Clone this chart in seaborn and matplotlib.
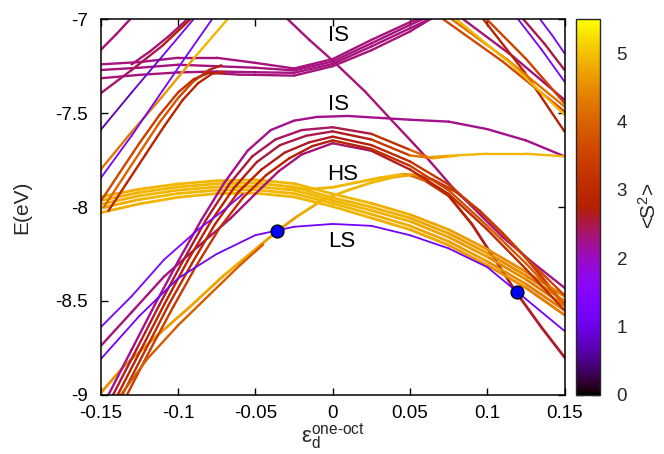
import numpy as np
import pandas as pd
import matplotlib
matplotlib.use("Agg")
import matplotlib.pyplot as plt
import seaborn as sns
from matplotlib import colors

# ---------------- data (eps, E in eV, <S^2>) ----------------
ls_eps = [-0.15, -0.125, -0.1, -0.075, -0.05, -0.025, 0, 0.025, 0.05, 0.075, 0.1, 0.125, 0.15]
ls_E = [-8.81, -8.58, -8.38, -8.25, -8.15, -8.105, -8.09, -8.10, -8.15, -8.22, -8.32, -8.49, -8.66]
ls_s2 = 1.15

up_eps = [-0.15, -0.13, -0.109, -0.087, -0.07, -0.058]
up_E = [-8.64, -8.475, -8.28, -8.12, -8.014, -7.93]
up_s2 = [1.2, 1.2, 1.25, 1.4, 1.7, 2.0]

m1_eps = [-0.15, -0.13, -0.109, -0.087, -0.066, -0.05, -0.035, -0.02, 0, 0.025, 0.05, 0.075, 0.1, 0.125, 0.15]
m1_E = [-8.74, -8.56, -8.37, -8.21, -8.06, -7.93, -7.81, -7.72, -7.66, -7.70, -7.80, -7.93, -8.12, -8.33, -8.55]
m1_s2 = [2.3, 2.3, 2.3, 2.3, 2.3, 2.3, 2.3, 2.3, 2.3, 2.5, 2.8, 3.0, 3.0, 3.1, 3.1]

l1_eps = [-0.145, -0.13, -0.115, -0.1, -0.085, -0.07, -0.055, -0.04, -0.025, -0.01, 0.01, 0.03, 0.05, 0.075, 0.1, 0.125, 0.15]
l1_E = [-9.0, -8.76, -8.52, -8.29, -8.07, -7.87, -7.70, -7.59, -7.54, -7.52, -7.515, -7.525, -7.535, -7.545, -7.585, -7.645, -7.73]
l1_s2 = 2.25

l2_eps = [-0.142, -0.127, -0.112, -0.097, -0.082, -0.067, -0.052, -0.037, -0.02, 0, 0.025, 0.05, 0.062, 0.075, 0.1, 0.125, 0.15]
l2_E = [-9.0, -8.76, -8.52, -8.29, -8.07, -7.88, -7.73, -7.64, -7.59, -7.575, -7.61, -7.695, -7.735, -7.727, -7.716, -7.716, -7.73]
l2_s2 = [2.6, 2.6, 2.6, 2.6, 2.6, 2.6, 2.5, 2.4, 2.4, 2.4, 2.6, 3.6, 4.4, 4.9, 4.9, 4.9, 4.9]

l3_eps = [-0.139, -0.124, -0.109, -0.094, -0.079, -0.064, -0.049, -0.034, -0.017, 0, 0.025, 0.05, 0.065, 0.08]
l3_E = [-9.0, -8.76, -8.52, -8.29, -8.08, -7.90, -7.76, -7.67, -7.62, -7.597, -7.64, -7.725, -7.74, -7.727]
l3_s2 = [2.9, 2.9, 2.9, 2.9, 2.9, 2.8, 2.6, 2.5, 2.5, 2.5, 2.8, 3.8, 4.6, 4.9]

l4_eps = [-0.136, -0.121, -0.106, -0.091, -0.076, -0.061, -0.046, -0.031, -0.015, 0, 0.025, 0.05, 0.075, 0.1, 0.125, 0.15]
l4_E = [-9.0, -8.76, -8.52, -8.30, -8.09, -7.92, -7.80, -7.71, -7.655, -7.625, -7.67, -7.757, -7.88, -8.06, -8.27, -8.47]
l4_s2 = [3.1, 3.1, 3.1, 3.0, 2.9, 2.8, 2.7, 2.6, 2.6, 2.6, 2.8, 3.2, 3.3, 3.4, 3.5, 3.6]

l5_eps = [-0.133, -0.118, -0.103, -0.088, -0.073, -0.058, -0.043, -0.028, -0.013, 0, 0.025, 0.05, 0.075, 0.1, 0.125, 0.15]
l5_E = [-9.0, -8.76, -8.53, -8.31, -8.11, -7.95, -7.83, -7.74, -7.675, -7.645, -7.69, -7.78, -7.91, -8.10, -8.30, -8.52]
l5_s2 = [3.4, 3.4, 3.4, 3.3, 3.2, 3.0, 2.8, 2.7, 2.7, 2.7, 2.9, 3.3, 3.6, 3.8, 3.9, 4.0]

y0_eps = [-0.15, -0.135, -0.114, -0.092, -0.071, -0.049, -0.036, -0.023, -0.006, 0.01, 0.025, 0.04, 0.05, 0.06, 0.075, 0.09, 0.105, 0.119, 0.135, 0.15]
y0_E = [-8.99, -8.848, -8.688, -8.529, -8.369, -8.218, -8.13, -8.05, -7.96, -7.91, -7.87, -7.84, -7.83, -7.86, -7.94, -8.09, -8.28, -8.457, -8.64, -8.80]
y0_s2 = [4.5, 4.6, 4.7, 4.7, 4.8, 4.8, 4.6, 4.7, 4.9, 4.9, 4.9, 4.9, 4.6, 3.4, 2.8, 2.7, 2.6, 2.6, 2.6, 2.6]

y1_eps = [-0.03, -0.015, 0, 0.015, 0.03, 0.045, 0.055, 0.065, 0.08, 0.095, 0.11, 0.125, 0.14, 0.15]
y1_E = [-7.895, -7.905, -7.895, -7.87, -7.845, -7.825, -7.83, -7.855, -7.92, -8.02, -8.14, -8.27, -8.42, -8.52]
y1_s2 = [4.9, 4.9, 4.9, 4.9, 4.9, 4.9, 4.2, 3.5, 3.2, 3.1, 3.2, 3.3, 3.4, 3.4]

o1_eps = [-0.137, -0.12, -0.1, -0.08, -0.06, -0.045]
o1_E = [-9.0, -8.81, -8.63, -8.47, -8.31, -8.20]
o1_s2 = 3.9

h_eps = [-0.15, -0.125, -0.1, -0.075, -0.05, -0.025, 0, 0.025, 0.05, 0.075, 0.1, 0.125, 0.15]
h1_E = [-7.945, -7.905, -7.877, -7.86, -7.855, -7.875, -7.93, -7.98, -8.04, -8.12, -8.225, -8.345, -8.475]
h2_E = [-7.965, -7.922, -7.893, -7.876, -7.872, -7.893, -7.95, -8.0, -8.058, -8.14, -8.245, -8.365, -8.50]
h3_E = [-7.985, -7.94, -7.91, -7.893, -7.89, -7.91, -7.965, -8.018, -8.076, -8.16, -8.265, -8.385, -8.525]
h4_E = [-8.005, -7.96, -7.928, -7.91, -7.908, -7.928, -7.98, -8.038, -8.10, -8.183, -8.29, -8.41, -8.55]
h5_E = [-8.03, -7.983, -7.948, -7.928, -7.926, -7.946, -7.997, -8.058, -8.12, -8.203, -8.31, -8.43, -8.575]
h_s2 = [4.8, 4.9, 4.9, 4.9, 4.9, 4.9, 4.9, 4.9, 4.8, 4.7, 4.6, 4.4, 4.2]

d1_eps = [-0.029, -0.015, 0, 0.021, 0.038, 0.053, 0.063, 0.078, 0.089, 0.11, 0.13, 0.15]
d1_E = [-7.0, -7.11, -7.22, -7.385, -7.536, -7.668, -7.757, -7.899, -7.988, -8.16, -8.30, -8.43]
d1_s2 = 2.3

is_eps = [-0.15, -0.125, -0.1, -0.075, -0.05, -0.025, 0, 0.025, 0.05, 0.065]
is1_E = [-7.24, -7.228, -7.205, -7.205, -7.232, -7.262, -7.212, -7.11, -7.015, -6.97]
is2_E = [-7.27, -7.258, -7.242, -7.25, -7.258, -7.272, -7.225, -7.128, -7.03, -6.975]
is3_E = [-7.314, -7.296, -7.283, -7.278, -7.282, -7.285, -7.238, -7.145, -7.048, -6.99]
is_s2 = 2.3

r1_eps = [-0.15, -0.138, -0.125, -0.112, -0.1, -0.09, -0.08, -0.07, -0.06, -0.05, -0.025, 0, 0.025, 0.05, 0.065]
r1_E = [-7.97, -7.82, -7.66, -7.51, -7.39, -7.32, -7.285, -7.29, -7.295, -7.296, -7.30, -7.25, -7.165, -7.065, -6.99]
r1_s2 = [3.6, 3.6, 3.5, 3.4, 3.3, 3.0, 2.6, 2.3, 2.3, 2.3, 2.3, 2.3, 2.3, 2.3, 2.3]

r2_eps = [-0.148, -0.136, -0.124, -0.112, -0.1, -0.09, -0.08, -0.072]
r2_E = [-8.0, -7.85, -7.70, -7.55, -7.42, -7.33, -7.27, -7.245]
r2_s2 = [4.1, 4.0, 4.0, 3.9, 3.7, 3.4, 2.9, 2.5]

r3_eps = [-0.145, -0.133, -0.121, -0.109, -0.097, -0.087, -0.078, -0.07]
r3_E = [-8.02, -7.87, -7.72, -7.57, -7.43, -7.34, -7.29, -7.28]
r3_s2 = 2.9

t1_eps = [-0.13, -0.118, -0.106, -0.094]
t1_E = [-7.24, -7.17, -7.09, -7.0]
t2_eps = [-0.15, -0.13, -0.11, -0.09]
t2_E = [-7.589, -7.39, -7.195, -7.0]
t2_s2 = [0.6, 0.7, 1.0, 1.4]
t3_eps = [-0.15, -0.13, -0.11, -0.095, -0.078]
t3_E = [-7.846, -7.62, -7.38, -7.20, -7.0]
t4_eps = [-0.15, -0.13, -0.11, -0.09, -0.068]
t4_E = [-7.80, -7.60, -7.41, -7.21, -7.0]
t4_s2 = [4.2, 4.3, 4.5, 4.8, 5.0]
t5_eps = [-0.15, -0.13, -0.11, -0.092]
t5_E = [-7.394, -7.27, -7.14, -7.0]
t5_s2 = [2.3, 2.4, 2.6, 2.9]
a1_eps = [-0.15, -0.14, -0.131]
a1_E = [-7.163, -7.08, -7.0]

tra_eps = [0.0716, 0.11, 0.15]
tra_E = [-7.0, -7.225, -7.491]
trb_eps = [0.077, 0.113, 0.15]
trb_E = [-7.0, -7.215, -7.465]
trc_eps = [0.080, 0.115, 0.15]
trc_E = [-7.0, -7.235, -7.509]
trd_eps = [0.0845, 0.117, 0.15]
trd_E = [-7.0, -7.2, -7.429]
tre_eps = [0.0975, 0.124, 0.15]
tre_E = [-7.0, -7.28, -7.598]
trf_eps = [0.0997, 0.125, 0.15]
trf_E = [-7.0, -7.21, -7.447]
p1_eps = [0.120, 0.135, 0.15]
p1_E = [-7.0, -7.16, -7.332]
p2_eps = [0.1234, 0.137, 0.15]
p2_E = [-7.0, -7.13, -7.27]
p3_eps = [0.1342, 0.142, 0.15]
p3_E = [-7.0, -7.085, -7.181]

dot_eps = [-0.036, 0.119]
dot_E = [-8.13, -8.455]

x_ticks = [-0.15, -0.1, -0.05, 0, 0.05, 0.1, 0.15]
x_labels = ["-0.15", "-0.1", "-0.05", "0", "0.05", "0.1", "0.15"]
y_ticks = [-9, -8.5, -8, -7.5, -7]
y_labels = ["-9", "-8.5", "-8", "-7.5", "-7"]
cb_ticks = [0, 1, 2, 3, 4, 5]

state_labels = ["IS", "IS", "HS", "LS"]
state_eps = [0.0035, 0.0035, 0.0067, 0.0056]
state_E = [-7.084, -7.456, -7.828, -8.183]

# ---------------- assemble ----------------
curves = [
    (ls_eps, ls_E, ls_s2, "thin"), (up_eps, up_E, up_s2, "thin"),
    (m1_eps, m1_E, m1_s2, "mid"),
    (l1_eps, l1_E, l1_s2, "mid"), (l2_eps, l2_E, l2_s2, "mid"), (l3_eps, l3_E, l3_s2, "mid"),
    (l4_eps, l4_E, l4_s2, "mid"), (l5_eps, l5_E, l5_s2, "mid"),
    (o1_eps, o1_E, o1_s2, "mid"),
    (h_eps, h1_E, h_s2, "thick"), (h_eps, h2_E, h_s2, "thick"), (h_eps, h3_E, h_s2, "thick"),
    (h_eps, h4_E, h_s2, "thick"), (h_eps, h5_E, h_s2, "thick"),
    (y0_eps, y0_E, y0_s2, "thick"), (y1_eps, y1_E, y1_s2, "thick"),
    (d1_eps, d1_E, d1_s2, "mid"),
    (is_eps, is1_E, is_s2, "mid"), (is_eps, is2_E, is_s2, "mid"), (is_eps, is3_E, is_s2, "mid"),
    (r1_eps, r1_E, r1_s2, "mid"), (r2_eps, r2_E, r2_s2, "mid"), (r3_eps, r3_E, r3_s2, "mid"),
    (t1_eps, t1_E, 2.3, "mid"), (t2_eps, t2_E, t2_s2, "thin"), (t3_eps, t3_E, 1.2, "thin"),
    (t4_eps, t4_E, t4_s2, "mid"), (t5_eps, t5_E, t5_s2, "mid"), (a1_eps, a1_E, 2.3, "mid"),
    (tra_eps, tra_E, 3.6, "mid"), (trb_eps, trb_E, 4.2, "mid"), (trc_eps, trc_E, 4.9, "mid"),
    (trd_eps, trd_E, 2.3, "mid"), (tre_eps, tre_E, 2.8, "mid"), (trf_eps, trf_E, 3.5, "mid"),
    (p1_eps, p1_E, 1.2, "thin"), (p2_eps, p2_E, 2.5, "mid"), (p3_eps, p3_E, 1.2, "thin"),
]

rows = []
seg = 0
for eps, E, s2, w in curves:
    s2 = np.broadcast_to(np.asarray(s2, dtype=float), (len(eps),))
    for i in range(len(eps) - 1):
        c = 0.5 * (s2[i] + s2[i + 1])
        rows.append((seg, eps[i], E[i], c, w))
        rows.append((seg, eps[i + 1], E[i + 1], c, w))
        seg += 1
df = pd.DataFrame(rows, columns=["seg", "eps", "E", "S2", "w"])

# ---------------- plot ----------------
sns.set_style("ticks")
plt.rcParams["font.family"] = ["Liberation Sans", "DejaVu Sans"]
plt.rcParams["mathtext.fontset"] = "custom"
plt.rcParams["mathtext.rm"] = "Liberation Sans"
plt.rcParams["mathtext.it"] = "Liberation Sans:italic"
plt.rcParams["axes.unicode_minus"] = False

fig = plt.figure(figsize=(6.64, 4.54), dpi=100)
ax = fig.add_axes([0.1517, 0.1304, 0.6985, 0.8271])

norm = colors.Normalize(0, 5.5)
for w, lw in [("thick", 2.0), ("mid", 1.7), ("thin", 1.3)]:
    sub = df[df["w"] == w]
    sns.lineplot(data=sub, x="eps", y="E", hue="S2", units="seg", estimator=None,
                 sort=False, palette="gnuplot", hue_norm=(0, 5.5), legend=False,
                 linewidth=lw, solid_capstyle="round", ax=ax)

sns.scatterplot(x=dot_eps, y=dot_E, color="#0000ff", edgecolor="black",
                linewidth=1.0, s=85, zorder=10, ax=ax)

for lab, xe, ye in zip(state_labels, state_eps, state_E):
    ax.text(xe, ye, lab, fontsize=16, ha="center", va="center", color="black", zorder=11)

ax.set_xlim(-0.15, 0.15)
ax.set_ylim(-9, -7)
ax.set_xticks(x_ticks)
ax.set_xticklabels(x_labels)
ax.set_yticks(y_ticks)
ax.set_yticklabels(y_labels)
ax.tick_params(direction="in", top=True, right=True, length=5, width=1,
               labelsize=13.5, colors="black")
ax.tick_params(axis="y", pad=9)
ax.tick_params(axis="x", pad=7)
for sp in ax.spines.values():
    sp.set_linewidth(1.1)
    sp.set_color("black")

ax.set_ylabel("E(eV)", fontsize=15)
ax.yaxis.set_label_coords(-0.15, 0.5)
ax.set_xlabel(r"ε$_{\mathrm{d}}^{\mathrm{one\text{-}oct}}$", fontsize=16)
ax.xaxis.set_label_coords(0.5, -0.07)

cax = fig.add_axes([576 / 664, 0.1304, 24 / 664, 0.8271])
sm = plt.cm.ScalarMappable(norm=norm, cmap="gnuplot")
cb = fig.colorbar(sm, cax=cax, ticks=cb_ticks)
cax.tick_params(direction="in", left=True, right=True, length=6, width=1,
                labelsize=13.5, pad=12)
cb.outline.set_linewidth(1.0)
fig.text(649 / 664, 1 - 206 / 454, r"<S$^2$>", rotation=90, ha="center",
         va="center", fontsize=15)

fig.savefig("out.png", dpi=100)
